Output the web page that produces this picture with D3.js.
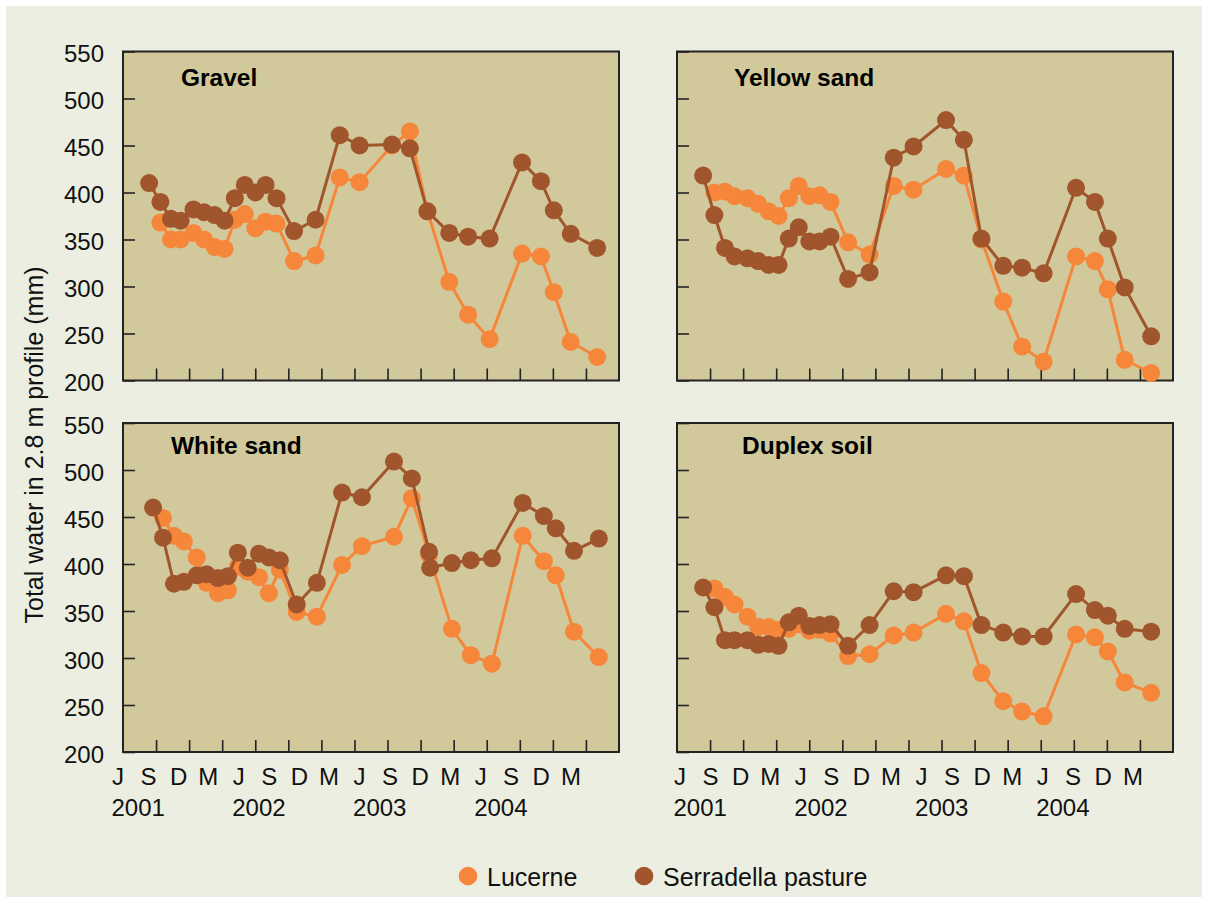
<!DOCTYPE html>
<html>
<head>
<meta charset="utf-8">
<script src="https://cdn.jsdelivr.net/npm/d3@7"></script>
<style>
  html, body { margin: 0; padding: 0; background: #ffffff; }
  svg { display: block; font-family: "Liberation Sans", Arial, Helvetica, sans-serif; }
</style>
</head>
<body>
<svg id="chart" width="1208" height="903"></svg>
<script>
// Soil water sampling dates (shared by Gravel, Yellow sand and Duplex soil sites)
const sampleDates = [
  "2001-08-22", "2001-09-25", "2001-10-27", "2001-11-25", "2002-01-03", "2002-02-04",
  "2002-03-08", "2002-04-07", "2002-05-08", "2002-06-07", "2002-07-09", "2002-08-09",
  "2002-09-11", "2002-11-03", "2003-01-07", "2003-03-21", "2003-05-20", "2003-08-26",
  "2003-10-19", "2003-12-11", "2004-02-15", "2004-04-12", "2004-06-16", "2004-09-22",
  "2004-11-18", "2004-12-27", "2005-02-16", "2005-05-07"
];
// White sand site was sampled on its own schedule (two readings in December 2003)
const whiteSandDates = [
  "2001-09-03", "2001-10-03", "2001-11-05", "2001-12-05", "2002-01-13", "2002-02-12",
  "2002-03-18", "2002-04-17", "2002-05-17", "2002-06-16", "2002-07-20", "2002-08-19",
  "2002-09-21", "2002-11-11", "2003-01-11", "2003-03-28", "2003-05-27", "2003-09-01",
  "2003-10-25", "2003-12-16", "2003-12-19", "2004-02-23", "2004-04-20", "2004-06-23",
  "2004-09-24", "2004-11-27", "2005-01-02", "2005-02-26", "2005-05-12"
];

// Total water in the 2.8 m profile (mm); null = not measured
const gravelLucerne     = [null, 368, 350, 350, 357, 350, 342, 340, 371, 377, 362, 369, 367, 327, 333, 416, 411, 450, 465, 380, 305, 270, 244, 335, 332, 294, 241, 225];
const gravelSerradella  = [410, 390, 372, 370, 382, 379, 376, 370, 394, 408, 400, 408, 394, 359, 371, 461, 450, 451, 447, 380, 357, 353, 351, 432, 412, 381, 356, 341];
const yellowLucerne     = [null, 400, 401, 396, 394, 388, 380, 375, 394, 407, 396, 397, 390, 347, 334, 407, 403, 425, 418, 350, 284, 236, 220, 332, 327, 297, 222, 208];
const yellowSerradella  = [418, 376, 341, 332, 330, 327, 323, 323, 351, 363, 348, 348, 353, 308, 315, 437, 449, 477, 456, 351, 322, 320, 314, 405, 390, 351, 299, 247];
const whiteLucerne      = [null, 449, 430, 424, 407, 380, 369, 372, 397, 392, 386, 369, 394, 349, 344, 399, 419, 429, 470, 410, null, 331, 303, 294, 430, 403, 388, 328, 301];
const whiteSerradella   = [460, 428, 379, 381, 388, 389, 385, 387, 412, 396, 411, 407, 404, 357, 380, 476, 471, 509, 491, 413, 396, 401, 404, 406, 465, 451, 438, 414, 427];
const duplexLucerne     = [null, 374, 365, 357, 344, 333, 333, 330, 331, 336, 329, 330, 326, 302, 304, 324, 327, 347, 339, 284, 254, 243, 238, 325, 322, 307, 274, 263];
const duplexSerradella  = [375, 354, 319, 319, 319, 314, 315, 313, 338, 345, 334, 335, 336, 313, 335, 371, 370, 388, 387, 335, 327, 323, 323, 368, 351, 345, 331, 328];

const siteNames   = ["Gravel", "Yellow sand", "White sand", "Duplex soil"];
const seriesNames = ["Lucerne", "Serradella pasture"];
const monthLabels = ["J", "S", "D", "M", "J", "S", "D", "M", "J", "S", "D", "M", "J", "S", "D", "M"];
const yearLabels  = ["2001", "2002", "2003", "2004"];
const yTickValues = [200, 250, 300, 350, 400, 450, 500, 550];
const yTitle = "Total water in 2.8 m profile (mm)";

// ---------------------------------------------------------------------------
const parse = d3.timeParse("%Y-%m-%d");

const sites = [
  { name: siteNames[0], dates: sampleDates,    lucerne: gravelLucerne, serradella: gravelSerradella },
  { name: siteNames[1], dates: sampleDates,    lucerne: yellowLucerne, serradella: yellowSerradella },
  { name: siteNames[2], dates: whiteSandDates, lucerne: whiteLucerne,  serradella: whiteSerradella },
  { name: siteNames[3], dates: sampleDates,    lucerne: duplexLucerne, serradella: duplexSerradella }
];

// Panel placement on the page
const panelW = 496, panelH = 329;
const layout = [
  { x: 123, y: 51.5, titleX: 58, titleY: 34, labels: false, yLabels: true,  labelShift: -4 },
  { x: 677, y: 51.5, titleX: 57, titleY: 34, labels: false, yLabels: false, labelShift: 4 },
  { x: 123, y: 423,  titleX: 48, titleY: 31, labels: true,  yLabels: true,  labelShift: -4 },
  { x: 677, y: 423,  titleX: 65, titleY: 31, labels: true,  yLabels: false, labelShift: 4 }
];

const colors = { lucerne: "#f5863a", serradella: "#a0552c" };
const panelFill = "#d1c99b";

const svg = d3.select("#chart");
svg.append("rect")
  .attr("x", 6).attr("y", 6).attr("width", 1196).attr("height", 891)
  .attr("fill", "#ebeee1");

const y = d3.scaleLinear().domain([200, 550]).range([panelH, 0]);
const x = d3.scaleTime()
  .domain([parse("2001-06-01"), parse("2005-03-01")])
  .range([-1, 452]);
// evenly spaced frame ticks along the bottom edge (15 divisions)
const frameTicks = d3.scaleLinear().domain([0, 15]).range([0, panelW]);

// quarterly label dates: Jun, Sep, Dec, Mar ... starting June 2001
const labelDates = d3.timeMonth.range(parse("2001-06-01"), parse("2005-03-02"), 3);

const line = d3.line()
  .x(d => x(d.date))
  .y(d => y(d.value));

sites.forEach((site, i) => {
  const L = layout[i];
  const g = svg.append("g").attr("transform", `translate(${L.x},${L.y})`);

  g.append("rect")
    .attr("width", panelW).attr("height", panelH)
    .attr("fill", panelFill);

  // y axis: inward ticks, labels only on the left-hand panels
  const yAxis = d3.axisLeft(y)
    .tickValues(yTickValues)
    .tickSizeInner(-12)
    .tickSizeOuter(0)
    .tickPadding(19)
    .tickFormat(L.yLabels ? d3.format("d") : () => "");
  const ya = g.append("g").call(yAxis)
    .attr("font-family", null).attr("font-size", null);
  ya.select(".domain").remove();
  ya.selectAll(".tick line").attr("stroke", "#222").attr("stroke-width", 1.6);
  ya.selectAll(".tick text")
    .attr("fill", "#111").attr("font-size", 24).attr("dy", "0.43em");

  // bottom frame ticks
  const xAxis = d3.axisBottom(frameTicks)
    .tickValues(d3.range(1, 15))
    .tickSizeInner(-12)
    .tickSizeOuter(0)
    .tickFormat(() => "");
  const xa = g.append("g").attr("transform", `translate(0,${panelH})`).call(xAxis);
  xa.select(".domain").remove();
  xa.selectAll(".tick line").attr("stroke", "#222").attr("stroke-width", 1.6);

  g.append("rect")
    .attr("width", panelW).attr("height", panelH)
    .attr("fill", "none").attr("stroke", "#222").attr("stroke-width", 2);

  g.append("text")
    .attr("x", L.titleX).attr("y", L.titleY)
    .attr("font-size", 24.5).attr("font-weight", "bold").attr("fill", "#000")
    .text(site.name);

  // series: lucerne underneath, serradella on top
  [["lucerne", site.lucerne], ["serradella", site.serradella]].forEach(([key, values]) => {
    const pts = values
      .map((v, j) => ({ date: parse(site.dates[j]), value: v }))
      .filter(d => d.value !== null);
    const sg = g.append("g");
    sg.append("path")
      .datum(pts)
      .attr("d", line)
      .attr("fill", "none")
      .attr("stroke", colors[key])
      .attr("stroke-width", 3);
    sg.selectAll("circle")
      .data(pts)
      .join("circle")
      .attr("cx", d => x(d.date))
      .attr("cy", d => y(d.value))
      .attr("r", 9)
      .attr("fill", colors[key]);
  });

  if (L.labels) {
    g.append("g").selectAll("text")
      .data(labelDates)
      .join("text")
      .attr("x", d => x(d) + L.labelShift)
      .attr("y", panelH + 33)
      .attr("text-anchor", "middle")
      .attr("font-size", 24).attr("fill", "#111")
      .text((d, k) => monthLabels[k]);
    g.append("g").selectAll("text")
      .data(yearLabels)
      .join("text")
      .attr("x", d => x(parse(d + "-08-01")) + L.labelShift)
      .attr("y", panelH + 64)
      .attr("text-anchor", "middle")
      .attr("font-size", 24).attr("fill", "#111")
      .text(d => d);
  }
});

// y axis title
svg.append("text")
  .attr("transform", "translate(43,445) rotate(-90)")
  .attr("text-anchor", "middle")
  .attr("font-size", 25).attr("fill", "#111")
  .text(yTitle);

// legend
const legend = svg.append("g");
const legendItems = [
  { name: seriesNames[0], color: colors.lucerne, x: 468 },
  { name: seriesNames[1], color: colors.serradella, x: 644 }
];
legendItems.forEach(item => {
  legend.append("circle")
    .attr("cx", item.x).attr("cy", 876).attr("r", 9.3)
    .attr("fill", item.color);
  legend.append("text")
    .attr("x", item.x + 19).attr("y", 886)
    .attr("font-size", 25).attr("fill", "#111")
    .text(item.name);
});
</script>
</body>
</html>
